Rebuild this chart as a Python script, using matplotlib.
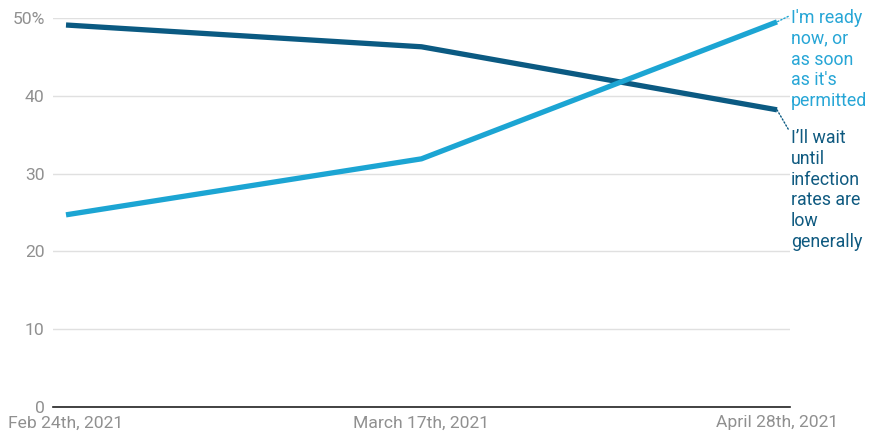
import matplotlib.pyplot as plt

plt.rcParams['font.family'] = ['Roboto', 'DejaVu Sans']

dates = ['Feb 24th, 2021', 'March 17th, 2021', 'April 28th, 2021']
ready_now = [24.7, 31.9, 49.5]
wait_low = [49.1, 46.3, 38.2]
y_ticks = [0, 10, 20, 30, 40, 50]
y_labels = ['0', '10', '20', '30', '40', '50%']

light = '#1ca5d3'
dark = '#0b5a82'
light_txt = '#27a6d6'
dark_txt = '#0f5a80'

fig = plt.figure(figsize=(8.69, 4.37), dpi=100)
ax = fig.add_axes([53 / 869, 30 / 437, 737 / 869, 389 / 437])

x = list(range(len(dates)))
ax.plot(x, wait_low, color=dark, lw=3.8, solid_capstyle='butt', zorder=3)
ax.plot(x, ready_now, color=light, lw=3.8, solid_capstyle='butt', zorder=3)

ax.set_xlim(-13 / 355.5, 2 + 13 / 355.5)
ax.set_ylim(0, 50)
ax.set_yticks(y_ticks)
ax.set_yticklabels(y_labels)
ax.set_xticks(x)
ax.set_xticklabels(dates)
ax.tick_params(axis='both', length=0, labelsize=12.6, labelcolor='#909090')
ax.tick_params(axis='y', pad=6)
ax.tick_params(axis='x', pad=6)
ax.grid(axis='y', color='#e0e0e0', lw=1)
ax.set_axisbelow(True)
for s in ['top', 'right', 'left']:
    ax.spines[s].set_visible(False)
ax.spines['bottom'].set_color('#222222')
ax.spines['bottom'].set_linewidth(1.2)
ax.spines['bottom'].set_zorder(4)

# end-of-line labels with dotted leaders
ax.annotate("I'm ready\nnow, or\nas soon\nas it's\npermitted",
            xy=(2, ready_now[-1]), xycoords='data',
            xytext=(791 / 869, 1 - 9 / 437), textcoords='figure fraction',
            ha='left', va='top', fontsize=12.8, color=light_txt, linespacing=1.2,
            annotation_clip=False,
            arrowprops=dict(arrowstyle='-', color=light, lw=1, ls=(0, (1, 1.5)),
                            shrinkA=0, shrinkB=0, relpos=(0, 0.94)))
ax.annotate("I\u2019ll wait\nuntil\ninfection\nrates are\nlow\ngenerally",
            xy=(2, wait_low[-1]), xycoords='data',
            xytext=(791 / 869, 1 - 129 / 437), textcoords='figure fraction',
            ha='left', va='top', fontsize=12.8, color=dark_txt, linespacing=1.2,
            annotation_clip=False,
            arrowprops=dict(arrowstyle='-', color=dark, lw=1, ls=(0, (1, 1.5)),
                            shrinkA=0, shrinkB=0, relpos=(0, 0.96)))

fig.savefig('out.png', dpi=100)
